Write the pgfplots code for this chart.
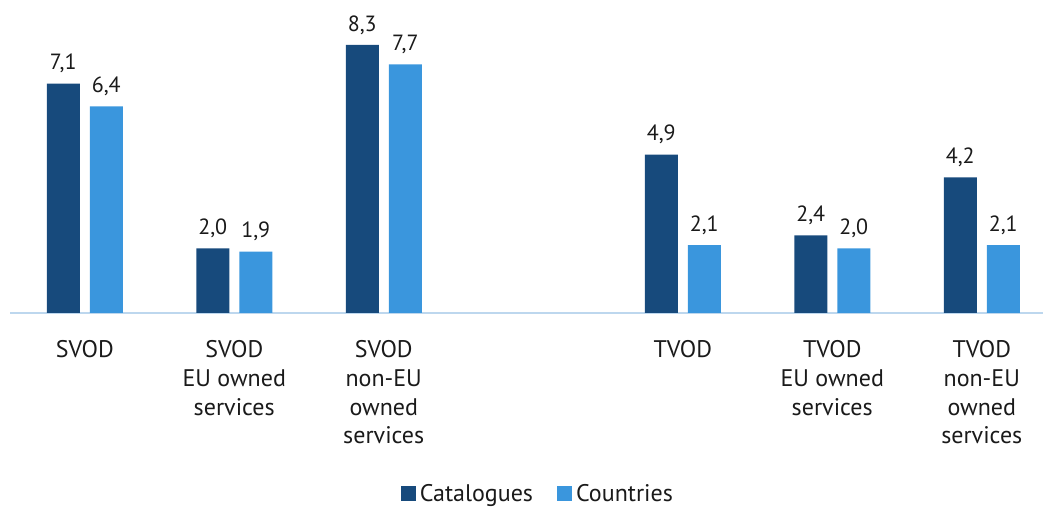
\documentclass[border=0pt]{standalone}
\usepackage{pgfplots}
\pgfplotsset{compat=1.18}
\usepackage{fontspec}
\setmainfont{PT Sans}
\definecolor{darkb}{HTML}{174A7C}
\definecolor{lightb}{HTML}{3A96DD}
\definecolor{lineb}{HTML}{BDD7EE}
\definecolor{txt}{HTML}{1A1A1A}
\begin{document}
\begin{tikzpicture}
\path[use as bounding box] (0,0) rectangle (1043pt,510pt);
\begin{axis}[
  at={(10pt,197pt)}, anchor=south west,
  scale only axis,
  x=149.5pt, y=32.3pt,
  xmin=-0.5, xmax=6.41, ymin=0, ymax=9,
  axis x line=bottom, axis y line=none,
  x axis line style={-, draw=lineb, line width=1.5pt},
  xtick={0,1,2,4,5,6},
  xtick style={draw=none},
  xticklabels={SVOD, SVOD\\EU owned\\services, SVOD\\non-EU\\owned\\services, TVOD, TVOD\\EU owned\\services, TVOD\\non-EU\\owned\\services},
  xticklabel style={align=center, font=\fontsize{24}{28.7}\selectfont, text=txt, anchor=north, yshift=-20pt},
  ybar, bar width=33pt,
  /pgf/number format/assume math mode=true,
  /pgf/number format/use comma, /pgf/number format/fixed, /pgf/number format/precision=1, /pgf/number format/fixed zerofill,
  nodes near coords,
  every node near coord/.append style={font=\fontsize{22}{24}\selectfont, text=txt, yshift=7pt},
  legend columns=2,
  legend style={at={(0.511,-0.622)}, anchor=center, draw=none, font=\fontsize{24}{28}\selectfont, text=txt,
    /tikz/every odd column/.append style={column sep=2pt},
    /tikz/every even column/.append style={column sep=22pt}},
  legend image code/.code={\fill[#1,draw=none] (0pt,-7pt) rectangle (15pt,8pt);},
]
\addplot[fill=darkb, draw=none, bar shift=-21.5pt] coordinates {(0,7.1) (1,2.0) (2,8.3) (4,4.9) (5,2.4) (6,4.2)};
\addplot[fill=lightb, draw=none, bar shift=21.5pt] coordinates {(0,6.4) (1,1.9) (2,7.7) (4,2.1) (5,2.0) (6,2.1)};
\legend{Catalogues, Countries}
\end{axis}
\end{tikzpicture}
\end{document}
